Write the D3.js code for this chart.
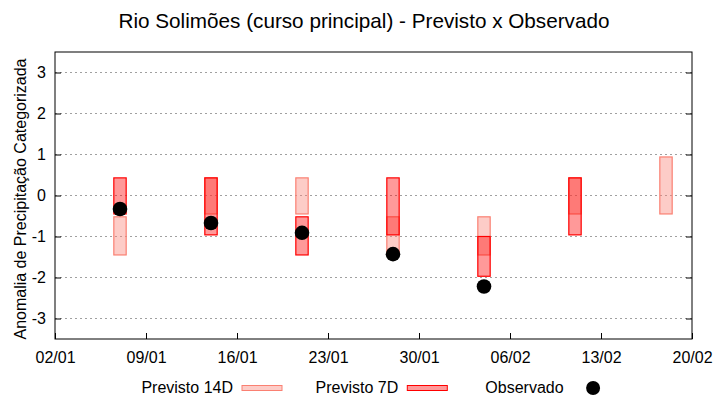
<!DOCTYPE html>
<html>
<head>
<meta charset="utf-8">
<script src="https://cdn.jsdelivr.net/npm/d3@7"></script>
<style>
  body { margin: 0; background: #fff; }
  text { font-family: "Liberation Sans", Arial, sans-serif; fill: #000; }
</style>
</head>
<body>
<svg id="chart" width="720" height="400"></svg>
<script>
// weekly forecast windows (center date) and category ranges
let dates = ['07/01', '14/01', '21/01', '28/01', '04/02', '11/02', '18/02']
let prev14Min = [-1.45, -0.45, -0.45, -1.45, -1.45, -0.45, -0.45]
let prev14Max = [-0.52, 0.43, 0.43, -0.52, -0.52, 0.43, 0.94]
let prev7Min = [-0.45, -0.96, -1.45, -0.96, -1.97, -0.96, null]
let prev7Max = [0.43, 0.43, -0.52, 0.43, -1.0, 0.43, null]
let observed = [-0.33, -0.67, -0.91, -1.43, -2.22, null, null]
let xTicks = ['02/01', '09/01', '16/01', '23/01', '30/01', '06/02', '13/02', '20/02']
let yTicks = [-3, -2, -1, 0, 1, 2, 3]

let parse = d3.timeParse('%d/%m/%Y')
let toDate = (s) => parse(s + '/2023')
let day = 24 * 3600 * 1000

let margin = {top: 52, right: 28, bottom: 61, left: 55}
let width = 720 - margin.left - margin.right,
    height = 400 - margin.top - margin.bottom

let x = d3.scaleTime()
    .domain([toDate('02/01'), toDate('20/02')])
    .range([0, width])

let y = d3.scaleLinear()
    .domain([-3.5, 3.5])
    .range([height, 0])

let svg = d3.select('#chart')
let g = svg.append('g')
    .attr('transform', 'translate(' + margin.left + ',' + margin.top + ')')

// grid
g.selectAll('.grid')
    .data(yTicks)
  .enter().append('line')
    .attr('x1', 0).attr('x2', width)
    .attr('y1', (d) => y(d)).attr('y2', (d) => y(d))
    .attr('stroke', '#a0a0a0')
    .attr('stroke-width', 1)
    .attr('stroke-dasharray', '2,3')

// axes with inward ticks
let yLeft = g.append('g')
    .call(d3.axisLeft(y).tickValues(yTicks).tickSize(-6).tickPadding(9).tickFormat((d) => String(d)))
let yRight = g.append('g')
    .attr('transform', 'translate(' + width + ',0)')
    .call(d3.axisRight(y).tickValues(yTicks).tickSize(-6).tickFormat(''))
let xBottom = g.append('g')
    .attr('transform', 'translate(0,' + height + ')')
    .call(d3.axisBottom(x).tickValues(xTicks.map(toDate)).tickSize(-6).tickPadding(13)
        .tickFormat(d3.timeFormat('%d/%m')))

;[yLeft, yRight, xBottom].forEach((a) => {
    a.select('.domain').remove()
    a.selectAll('line').attr('stroke', '#000')
    a.selectAll('text').style('font-size', '16px').attr('fill', '#000')
        .style('font-family', '"Liberation Sans", Arial, sans-serif')
})

// frame
g.append('rect')
    .attr('x', 0).attr('y', 0)
    .attr('width', width).attr('height', height)
    .attr('fill', 'none')
    .attr('stroke', '#000')
    .attr('stroke-width', 1)

let boxW = x(toDate('02/01').getTime() + 0.95 * day) - x(toDate('02/01'))

// Previsto 14D
g.selectAll('.p14')
    .data(dates.map((d, i) => ({d: toDate(d), lo: prev14Min[i], hi: prev14Max[i]})))
  .enter().append('rect')
    .attr('x', (d) => x(d.d) - boxW / 2)
    .attr('y', (d) => y(d.hi))
    .attr('width', boxW)
    .attr('height', (d) => y(d.lo) - y(d.hi))
    .attr('fill', 'salmon').attr('fill-opacity', 0.4)
    .attr('stroke', 'salmon').attr('stroke-width', 1.2)

// Previsto 7D
g.selectAll('.p7')
    .data(dates.map((d, i) => ({d: toDate(d), lo: prev7Min[i], hi: prev7Max[i]})).filter((d) => d.lo != null))
  .enter().append('rect')
    .attr('x', (d) => x(d.d) - boxW / 2)
    .attr('y', (d) => y(d.hi))
    .attr('width', boxW)
    .attr('height', (d) => y(d.lo) - y(d.hi))
    .attr('fill', 'red').attr('fill-opacity', 0.4)
    .attr('stroke', 'red').attr('stroke-width', 1.2)

// Observado
g.selectAll('.obs')
    .data(dates.map((d, i) => ({d: toDate(d), v: observed[i]})).filter((d) => d.v != null))
  .enter().append('circle')
    .attr('cx', (d) => x(d.d))
    .attr('cy', (d) => y(d.v))
    .attr('r', 7.3)
    .attr('fill', '#000')

// title
svg.append('text')
    .attr('x', 364).attr('y', 28)
    .attr('text-anchor', 'middle')
    .style('font-size', '20.7px')
    .text('Rio Solimões (curso principal) - Previsto x Observado')

// y label
svg.append('text')
    .attr('transform', 'translate(26,199) rotate(-90)')
    .attr('text-anchor', 'middle')
    .style('font-size', '16px')
    .text('Anomalia de Precipitação Categorizada')

// legend
let legend = [
    {label: 'Previsto 14D', type: 'box', fill: 'salmon', stroke: 'salmon'},
    {label: 'Previsto 7D', type: 'box', fill: 'red', stroke: 'red'},
    {label: 'Observado', type: 'dot'}
]
let leg = svg.selectAll('.leg')
    .data(legend)
  .enter().append('g')
    .attr('transform', (d, i) => 'translate(' + (242 + i * 165.3) + ',388)')
leg.append('text')
    .attr('x', -9).attr('y', 5)
    .attr('text-anchor', 'end')
    .style('font-size', '16px')
    .text((d) => d.label)
leg.filter((d) => d.type == 'box').append('rect')
    .attr('x', 0).attr('y', -2.5)
    .attr('width', 40).attr('height', 5)
    .attr('fill', (d) => d.fill).attr('fill-opacity', 0.4)
    .attr('stroke', (d) => d.stroke).attr('stroke-width', 1)
leg.filter((d) => d.type == 'dot').append('circle')
    .attr('cx', 20.5).attr('cy', 0)
    .attr('r', 7)
    .attr('fill', '#000')
</script>
</body>
</html>
